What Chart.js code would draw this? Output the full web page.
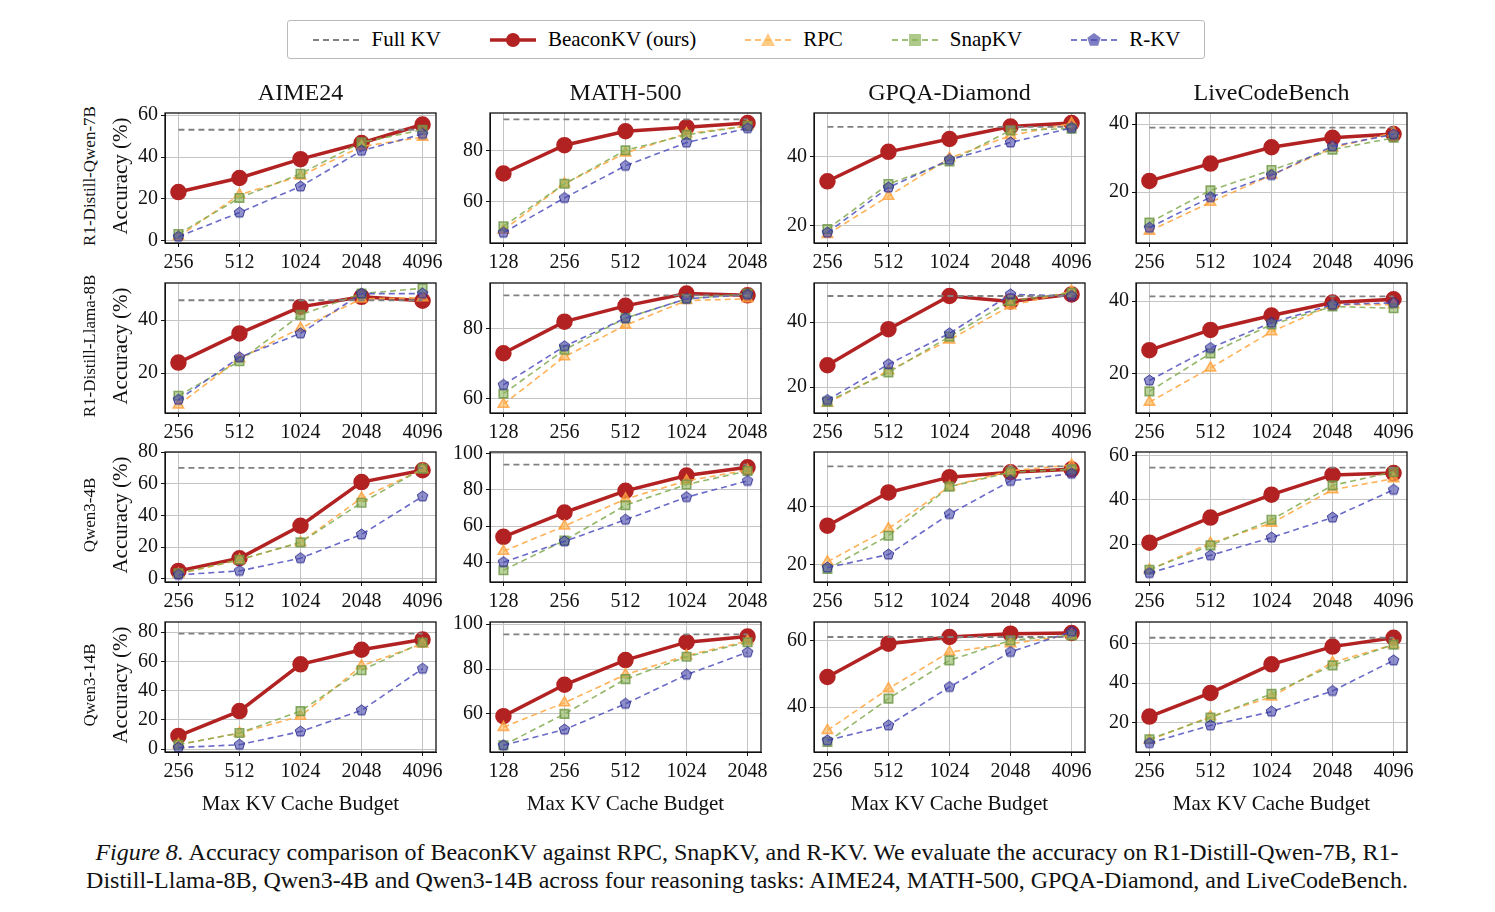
<!DOCTYPE html>
<html>
<head>
<meta charset="utf-8">
<script src="https://cdn.jsdelivr.net/npm/chart.js@4.4.0/dist/chart.umd.min.js"></script>
<style>
body { margin:0; background:#fff; font-family:"Liberation Serif", serif; }
#wrap { position:relative; width:1495px; height:912px; }
.cell { position:absolute; }
.txt { position:absolute; white-space:nowrap; color:#111; }
.rot { transform:translate(-50%,-50%) rotate(-90deg); }
#legend { position:absolute; left:287px; top:20px; width:916px; height:37px; border:1px solid #bbb; border-radius:3px;
  display:flex; align-items:center; justify-content:space-around; font-size:21px; }
#legend span { display:flex; align-items:center; gap:10px; }
</style>
</head>
<body>
<div id="wrap">
  <div id="legend"></div>
</div>
<script>
// --- data ---
const tasks = ['AIME24', 'MATH-500', 'GPQA-Diamond', 'LiveCodeBench'];
const models = ['R1-Distill-Qwen-7B', 'R1-Distill-Llama-8B', 'Qwen3-4B', 'Qwen3-14B'];
const budgetsA = ['256', '512', '1024', '2048', '4096'];
const budgetsMath = ['128', '256', '512', '1024', '2048'];

// [row][col]
const fullKV = [
  [53, 92, 48.5, 39],
  [47.5, 89.5, 48, 41.3],
  [70, 94, 54, 54.5],
  [79, 95.5, 61, 63]
];
const beacon = [
  [[23.3,30,39,46.7,55.5],[71,82,87.4,89,90.6],[32.8,41.3,45,48.6,49.6],[23.3,28.4,33.2,36,37.1]],
  [[24,35,45,48.8,47.3],[73,82,86.5,90,89.5],[26.7,37.8,48,46.3,48.5],[26.4,32,36,39.6,40.5]],
  [[5,13,33.5,61,68.5],[54,67.5,79.5,88,92.5],[33.5,45,50.3,52,53],[20.7,32,42.3,51.2,52]],
  [[9,26,58,68,75],[59,73,84,92,94.5],[49,59,61,62,62.2],[23,35,49.5,58.5,63]]
];
const rpc = [
  [[2,22,31,45,49.5],[49,67,79,86.5,89.5],[17.5,28.5,39.5,46,49.5],[8.5,17,25,33,37.5]],
  [[8,25.5,37,48,48.5],[58.5,72,81,88,88.5],[15,25,34.5,45,49.5],[12,21.5,31.5,39,39]],
  [[3,12,23,51,69],[46,60,75,85,91],[21,32.5,47,52.5,54.5],[8.5,20.5,29.5,44.5,49.5]],
  [[3,11,22.5,57,72],[54,65,77.5,86,92.5],[33,45.5,56.5,59,61.5],[11,23,33,50.5,59.5]]
];
const snap = [
  [[3.3,20.5,32,47,53],[50.5,67,80,86,89.5],[19,32,38.5,47.5,48],[11,20.5,26.5,32.5,36]],
  [[11.5,24.5,42,50,52],[61.5,74,83,88.5,90],[15.5,24.5,35.5,46.5,49],[15,25.5,33.5,38.5,38]],
  [[3.5,12,23,48,69.5],[35.5,52,71.5,83,90.5],[18.5,30,47,52,53],[8.5,19.5,31,46.5,52.5]],
  [[3,11,26,54,73],[46,60,75.5,85.5,92],[29.5,42.5,54,60,61.5],[11.5,22.5,34.5,49,59.5]]
];
const rkv = [
  [[2,13.5,26,43,51],[48,61.5,74,83,88.6],[18,31,39,44,48.2],[9.5,18.5,25,33.5,37]],
  [[10,26,35,50,50],[64,75,83,88.5,89.7],[16,27,36.5,48.5,48],[18,27,34,39,39.5]],
  [[2.5,5,13,28,52],[40,51.5,63.5,76,85],[19,23.5,37.5,49,51.5],[7,15,23,32,44.5]],
  [[1,3,12,26.5,55],[46,53,64.5,77.5,87.5],[30,34.5,46,56.5,62.6],[9.5,18.5,25.5,36,51.5]]
];
// y axis ranges [min, max, step]
const yRange = [
  [[-1,61,20],[44,94.5,20],[15,52.5,20],[5,43.3,20]],
  [[5,54,20],[56,93,20],[12,52,20],[9,45,20]],
  [[-2,80,20],[29,101,20],[14,59,20],[3,61.5,20]],
  [[-2,87,20],[43,101,20],[26.5,65.5,20],[5,71,20]]
];

// --- layout ---
const plotLeft = [165, 490, 814, 1136];
const plotTop = [108, 278, 447, 617];
const plotW = 271, plotH = 135, yW = 45, xH = 36;
const font = 'Liberation Serif';
const wrap = document.getElementById('wrap');

function pentagon(size, fill, stroke) {
  const c = document.createElement('canvas');
  c.width = c.height = size;
  const g = c.getContext('2d');
  const r = size / 2 - 1;
  g.beginPath();
  for (let i = 0; i < 5; i++) {
    const a = -Math.PI / 2 + i * 2 * Math.PI / 5;
    g.lineTo(size / 2 + r * Math.cos(a), size / 2 + r * Math.sin(a));
  }
  g.closePath();
  g.fillStyle = fill; g.fill();
  g.strokeStyle = stroke; g.lineWidth = 1; g.stroke();
  return c;
}
const pentImg = pentagon(13, 'rgba(70,70,170,0.6)', 'rgba(40,40,140,0.9)');

const frame = {
  id: 'frame',
  afterDraw(chart) {
    const a = chart.chartArea, g = chart.ctx;
    g.save(); g.strokeStyle = '#111'; g.lineWidth = 1.3;
    g.strokeRect(a.left, a.top, a.right - a.left, a.bottom - a.top);
    g.restore();
  }
};

function pts(arr) { return arr.map((v, i) => ({ x: i, y: v })); }

function addText(text, x, y, size, extra) {
  const d = document.createElement('div');
  d.className = 'txt' + (extra ? ' ' + extra : '');
  d.style.left = x + 'px'; d.style.top = y + 'px'; d.style.fontSize = size + 'px';
  d.textContent = text;
  wrap.appendChild(d);
  return d;
}

for (let r = 0; r < 4; r++) {
  for (let c = 0; c < 4; c++) {
    const div = document.createElement('div');
    div.className = 'cell';
    div.style.left = (plotLeft[c] - yW) + 'px';
    div.style.top = (plotTop[r] - 10) + 'px';
    div.style.width = (plotW + yW + 14) + 'px';
    div.style.height = (plotH + xH + 10) + 'px';
    const cv = document.createElement('canvas');
    div.appendChild(cv);
    wrap.appendChild(div);
    const labels = c === 1 ? budgetsMath : budgetsA;
    const [ymin, ymax, step] = yRange[r][c];
    const yTicks = [];
    for (let v = Math.ceil(ymin / step) * step; v <= ymax; v += step) yTicks.push({ value: v });
    new Chart(cv, {
      type: 'line',
      data: {
        datasets: [
          { data: pts([fullKV[r][c], fullKV[r][c], fullKV[r][c], fullKV[r][c], fullKV[r][c]]),
            borderColor: '#808080', borderWidth: 1.8, borderDash: [6, 4], pointRadius: 0 },
          { data: pts(rkv[r][c]), borderColor: 'rgba(80,80,190,0.85)', borderWidth: 1.6, borderDash: [6, 4],
            pointStyle: pentImg },
          { data: pts(snap[r][c]), borderColor: 'rgba(130,170,80,0.85)', borderWidth: 1.6, borderDash: [6, 4],
            pointStyle: 'rect', pointRadius: 6, backgroundColor: 'rgba(140,180,90,0.6)', pointBorderColor: 'rgba(110,150,70,0.8)' },
          { data: pts(rpc[r][c]), borderColor: 'rgba(255,170,70,0.9)', borderWidth: 1.6, borderDash: [6, 4],
            pointStyle: 'triangle', pointRadius: 6, backgroundColor: 'rgba(255,180,80,0.6)', pointBorderColor: 'rgba(255,160,60,0.8)' },
          { data: pts(beacon[r][c]), borderColor: '#b22222', borderWidth: 3.5,
            pointStyle: 'circle', pointRadius: 6.5, backgroundColor: '#b22222', pointBorderColor: '#b22222' }
        ]
      },
      options: {
        responsive: true, maintainAspectRatio: false, animation: false,
        layout: { padding: { top: 10, right: 14, left: 0, bottom: 0 } },
        plugins: { legend: { display: false }, tooltip: { enabled: false } },
        elements: { line: { tension: 0 }, point: { borderWidth: 1 } },
        datasets: { line: { clip: false } },
        scales: {
          x: {
            type: 'linear', min: -0.22, max: 4.22,
            afterFit: s => { s.height = xH; },
            afterBuildTicks: s => { s.ticks = [0, 1, 2, 3, 4].map(v => ({ value: v })); },
            ticks: { callback: v => labels[v], color: '#111', font: { family: font, size: 20 }, padding: 4, maxRotation: 0 },
            grid: { color: '#c4c4c4', tickLength: 4, tickColor: '#111' },
            border: { color: '#111' }
          },
          y: {
            min: ymin, max: ymax,
            afterFit: s => { s.width = yW; },
            afterBuildTicks: s => { s.ticks = yTicks.slice(); },
            ticks: { color: '#111', font: { family: font, size: 20 }, padding: 3 },
            grid: { color: '#c4c4c4', tickLength: 4, tickColor: '#111' },
            border: { color: '#111' }
          }
        }
      },
      plugins: [frame]
    });
  }
}

// column titles
tasks.forEach((t, c) => {
  const d = addText(t, plotLeft[c] + plotW / 2, 92, 24, '');
  d.style.transform = 'translate(-50%,-50%)';
  const x = addText('Max KV Cache Budget', plotLeft[c] + plotW / 2, 803, 21, '');
  x.style.transform = 'translate(-50%,-50%)';
});
// row labels
models.forEach((m, r) => {
  addText(m, 90, plotTop[r] + plotH / 2, 17, 'rot');
  addText('Accuracy (%)', 120, plotTop[r] + plotH / 2, 21, 'rot');
});

// legend
const legendItems = [
  ['Full KV', '<line x1="2" y1="10" x2="48" y2="10" stroke="#808080" stroke-width="2" stroke-dasharray="6,4"/>'],
  ['BeaconKV (ours)', '<line x1="2" y1="10" x2="48" y2="10" stroke="#b22222" stroke-width="3.5"/><circle cx="25" cy="10" r="7" fill="#b22222"/>'],
  ['RPC', '<line x1="2" y1="10" x2="48" y2="10" stroke="#ffaa46" stroke-width="1.6" stroke-dasharray="6,4"/><polygon points="25,3 32,16 18,16" fill="rgba(255,180,80,0.7)"/>'],
  ['SnapKV', '<line x1="2" y1="10" x2="48" y2="10" stroke="#82aa50" stroke-width="1.6" stroke-dasharray="6,4"/><rect x="19" y="4" width="12" height="12" fill="rgba(140,180,90,0.7)"/>'],
  ['R-KV', '<line x1="2" y1="10" x2="48" y2="10" stroke="#5050be" stroke-width="1.6" stroke-dasharray="6,4"/><polygon points="25,3 31.7,7.8 29.1,15.7 20.9,15.7 18.3,7.8" fill="rgba(70,70,170,0.7)"/>']
];
const lg = document.getElementById('legend');
legendItems.forEach(([name, svg]) => {
  const s = document.createElement('span');
  s.innerHTML = '<svg width="50" height="20">' + svg + '</svg>' + name;
  lg.appendChild(s);
});

// caption
const cap1 = addText('', 747, 852, 24, '');
cap1.style.transform = 'translate(-50%,-50%)';
cap1.innerHTML = '<i>Figure 8.</i> Accuracy comparison of BeaconKV against RPC, SnapKV, and R-KV. We evaluate the accuracy on R1-Distill-Qwen-7B, R1-';
const cap2 = addText('Distill-Llama-8B, Qwen3-4B and Qwen3-14B across four reasoning tasks: AIME24, MATH-500, GPQA-Diamond, and LiveCodeBench.', 747, 880, 24, '');
cap2.style.transform = 'translate(-50%,-50%)';
</script>
</body>
</html>
